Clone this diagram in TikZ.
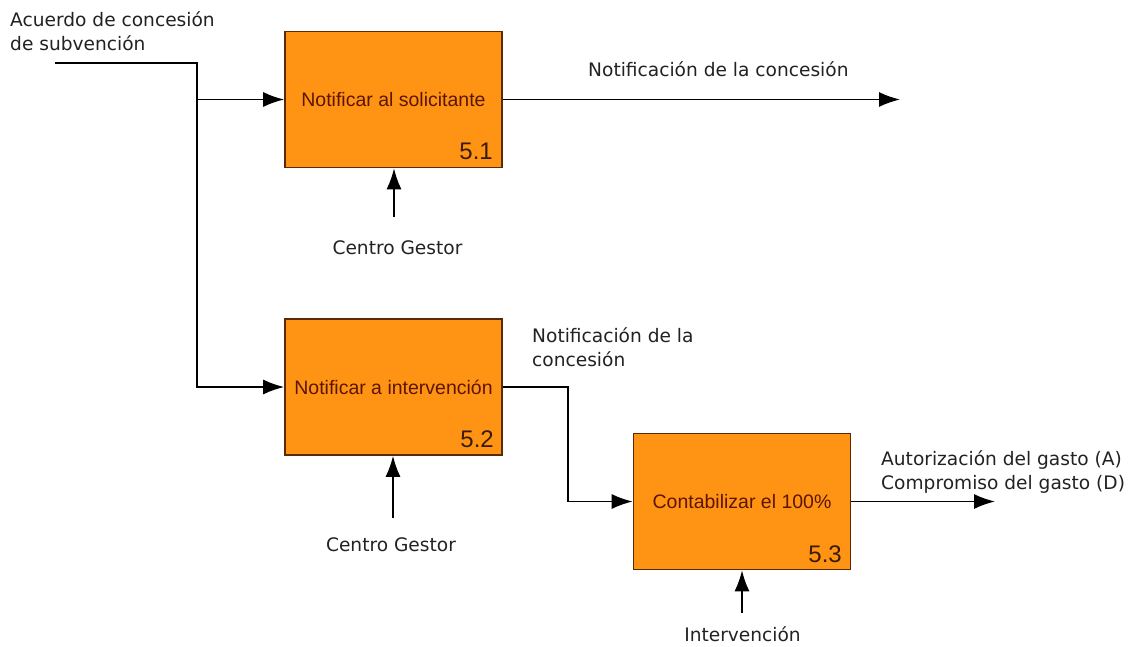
\documentclass[tikz,border=0pt]{standalone}
\usepackage{fontspec}
\newfontfamily\dvfont{DejaVu Sans}
\newfontfamily\libfont{Liberation Sans}
\usetikzlibrary{arrows.meta}
\definecolor{boxfill}{HTML}{FF9414}
\definecolor{boxdraw}{HTML}{5A2A05}
\definecolor{boxtext}{HTML}{5C1500}
\definecolor{numtext}{HTML}{3A1A08}
\definecolor{lbltext}{HTML}{222222}
\begin{document}
\begin{tikzpicture}[x=1pt,y=-1pt,
  proc/.style={draw=boxdraw, fill=boxfill, line width=1.6pt, minimum width=217pt, minimum height=136pt, inner sep=0pt, font=\libfont\fontsize{19.5}{23}\selectfont, text=boxtext},
  num/.style={anchor=base east, inner sep=0pt, font=\libfont\fontsize{24}{27}\selectfont, text=numtext},
  lbl/.style={inner sep=0pt, font=\dvfont\fontsize{18.6}{23.5}\selectfont, text=lbltext, align=left},
  conn/.style={draw=black, line width=1.7pt},
  arr/.style={conn, -{Latex[length=21pt,width=15pt]}},
]
\useasboundingbox[fill=white] (0,0) rectangle (1133,646);
\node[proc] (b1) at (393.5,99.5) {Notificar al solicitante};
\node[proc] (b2) at (393.5,387) {Notificar a intervención};
\node[proc] (b3) at (742,501.5) {Contabilizar el 100\%};
\node[num] (n1) at (493,159) {5.1};
\node[num] (n2) at (494,447) {5.2};
\node[num] (n3) at (842,562) {5.3};
% input
\coordinate (in) at (55,63);
\coordinate (j) at (197,63);
\coordinate (j1) at (197,99.5);
\draw[arr] (in) -- (j) |- (b2.west);
\draw[arr] (j1) -- (b1.west);
\node[lbl, anchor=base west] (lin) at (10,50) {Acuerdo de concesión\\de subvención};
% output 1
\coordinate (o1) at (900,99.5);
\draw[arr] (b1.east) -- (o1);
\node[lbl, anchor=base west] (lo1) at (588,76) {Notificación de la concesión};
% control 1
\coordinate (c1) at (394,217);
\draw[arr] (c1) -- (c1 |- b1.south);
\node[lbl, anchor=base] (lc1) at (397.5,254) {Centro Gestor};
% output 2
\coordinate (k) at (568,387);
\draw[arr] (b2.east) -- (k) |- (b3.west);
\node[lbl, anchor=base west] (lo2) at (532,366) {Notificación de la\\concesión};
% control 2
\coordinate (c2) at (393,518);
\draw[arr] (c2) -- (c2 |- b2.south);
\node[lbl, anchor=base] (lc2) at (391,551) {Centro Gestor};
% output 3
\coordinate (o3) at (995,501.5);
\draw[arr] (b3.east) -- (o3);
\node[lbl, anchor=base west] (lo3) at (881,489) {Autorización del gasto (A)\\Compromiso del gasto (D)};
% control 3
\coordinate (c3) at (742,613);
\draw[arr] (c3) -- (c3 |- b3.south);
\node[lbl, anchor=base] (lc3) at (742.5,641) {Intervención};
\end{tikzpicture}
\end{document}
